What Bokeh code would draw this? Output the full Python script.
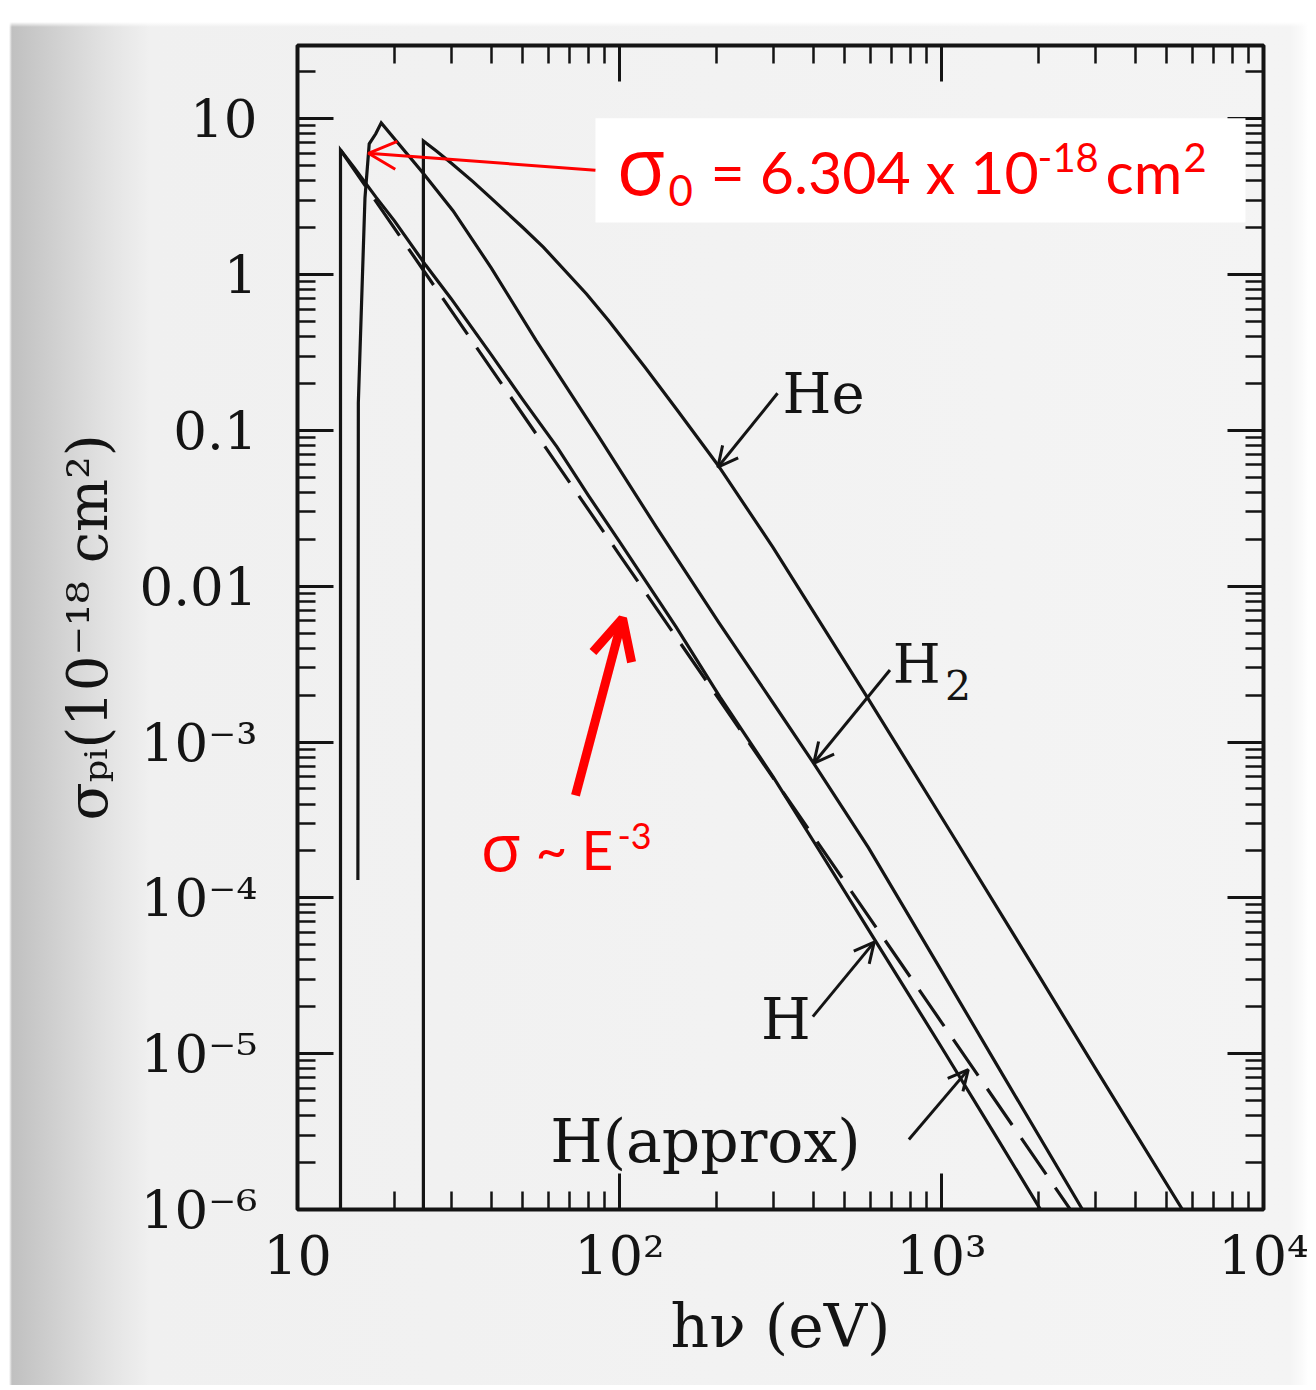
from bokeh.plotting import figure
from bokeh.models import (LogAxis, FixedTicker, Label, Arrow, OpenHead, BoxAnnotation,
                          Range1d, CustomJSTickFormatter)
from bokeh.embed import file_html
from bokeh.resources import INLINE

# ---------------- data (photon energy in eV, sigma in 1e-18 cm^2) -------------
H_energy = [13.6, 13.6, 15, 17.5, 20, 25, 30, 40, 50, 64, 80, 100, 150, 205, 300, 415, 620, 1000, 1500, 2000, 2100]
H_sigma = [1e-6, 6.3, 4.85, 3.15, 2.21, 1.15, 0.70, 0.305, 0.158, 0.078, 0.0383, 0.0193, 5.46e-3, 1.95e-3,
           5.97e-4, 2.05e-4, 5.4e-5, 1.1e-5, 2.8e-6, 1.05e-6, 0.89e-6]

Happrox_energy = [13.6, 100, 1000, 2700]
Happrox_sigma = [6.3, 0.0159, 1.59e-5, 8.05e-7]

H2_energy = [15.4, 15.45, 16.2, 16.7, 17.5, 18.2, 24.5, 30.4, 40, 55, 86, 130, 204, 300, 401, 593, 1000, 1500,
             2740, 2900]
H2_sigma = [1.3e-4, 0.15, 3.1, 6.9, 8.0, 9.4, 4.5, 2.57, 1.1, 0.38, 0.092, 0.024, 5.8e-3, 1.78e-3, 7.3e-4,
            2.1e-4, 3.4e-5, 8.2e-6, 1.0e-6, 8.2e-7]

He_energy = [24.6, 24.6, 27, 30, 35, 40, 50, 58, 79, 93, 120, 151, 202, 300, 587, 1128, 2000, 3000, 5600, 6000]
He_sigma = [1e-6, 7.2, 6.2, 5.2, 3.96, 3.08, 2.01, 1.5, 0.75, 0.50, 0.254, 0.135, 0.06, 0.0177, 1.95e-3,
            2.2e-4, 3.2e-5, 8.1e-6, 1.0e-6, 8.0e-7]

x_tick_values = [10, 100, 1000, 10000]
x_tick_labels = ["10", "10²", "10³", "10⁴"]
y_tick_values = [1e-6, 1e-5, 1e-4, 1e-3, 0.01, 0.1, 1, 10]
y_tick_labels = ["10⁻⁶", "10⁻⁵", "10⁻⁴", "10⁻³", "0.01", "0.1", "1", "10"]

x_label = "hν (eV)"
y_label = "σₚᵢ(10⁻¹⁸ cm²)"

# ---------------- styling ----------------
INK = "#141414"
SERIF = "DejaVu Serif"
RED = "#ff0000"
BASE_SHIFT = 0.355  # compensation so that the label anchor is the alphabetic baseline

x_minor = [m * 10.0 ** k for k in range(1, 4) for m in range(2, 10)]
y_minor = [m * 10.0 ** k for k in range(-6, 2) for m in range(2, 10)]
xt = FixedTicker(ticks=x_tick_values, minor_ticks=x_minor)
yt = FixedTicker(ticks=y_tick_values, minor_ticks=y_minor)

fmt_code = """
let best = -1, bd = 1e9;
for (let i = 0; i < vals.length; i++) {
  const d = Math.abs(Math.log10(tick) - Math.log10(vals[i]));
  if (d < bd) { bd = d; best = i; }
}
return bd < 1e-6 ? labs[best] : "";
"""
xfmt = CustomJSTickFormatter(args=dict(vals=x_tick_values, labs=x_tick_labels), code=fmt_code)
yfmt = CustomJSTickFormatter(args=dict(vals=y_tick_values, labs=y_tick_labels), code=fmt_code)
blank = CustomJSTickFormatter(code="return '';")

p = figure(x_axis_type="log", y_axis_type="log",
           x_range=Range1d(10, 1e4), y_range=Range1d(1e-6, 29.5),
           frame_width=966, frame_height=1164,
           min_border_left=297, min_border_right=50, min_border_top=45, min_border_bottom=176,
           output_backend="svg", toolbar_location=None,
           background_fill_color=None, border_fill_color=None,
           outline_line_color=INK, outline_line_width=4)
p.grid.visible = False
p.styles = {
    "background": "linear-gradient(to bottom, #ffffff 0px, #ffffff 22px, rgba(255,255,255,0) 27px), "
                  "linear-gradient(to right, #ffffff 0px, #ffffff 9px, #c0c0c0 12px, #cecece 50px, "
                  "#e2e2e2 105px, #f0f0f0 150px, #f4f4f4 1290px, #fafafa 1302px, #ffffff 1308px)"
}


def style_axis(ax):
    ax.axis_line_color = None
    ax.major_tick_in = 36
    ax.major_tick_out = 0
    ax.minor_tick_in = 18
    ax.minor_tick_out = 0
    ax.major_tick_line_color = INK
    ax.minor_tick_line_color = INK
    ax.major_tick_line_width = 3
    ax.minor_tick_line_width = 2.5
    ax.major_label_text_font = SERIF
    ax.major_label_text_color = INK
    ax.axis_label_text_font = SERIF
    ax.axis_label_text_font_style = "normal"
    ax.axis_label_text_color = INK


xa = p.xaxis[0]
ya = p.yaxis[0]
xa.ticker = xt
ya.ticker = yt
xa.formatter = xfmt
ya.formatter = yfmt
style_axis(xa)
style_axis(ya)
xa.major_label_text_font_size = "54px"
ya.major_label_text_font_size = "53px"
xa.major_label_standoff = 15
ya.major_label_standoff = 40
xa.axis_label = x_label
ya.axis_label = y_label
xa.axis_label_text_font_size = "60px"
ya.axis_label_text_font_size = "56px"
xa.axis_label_standoff = 0
ya.axis_label_standoff = 16

top = LogAxis(ticker=xt, formatter=blank)
right = LogAxis(ticker=yt, formatter=blank)
for ax in (top, right):
    style_axis(ax)
    ax.major_label_text_font_size = "8px"
    ax.major_label_standoff = 0
p.add_layout(top, "above")
p.add_layout(right, "right")

# ---------------- curves ----------------
p.line(He_energy, He_sigma, line_width=3.2, line_color=INK, line_join="miter")
p.line(H2_energy, H2_sigma, line_width=3.2, line_color=INK, line_join="miter")
p.line(H_energy, H_sigma, line_width=3.2, line_color=INK, line_join="miter")
p.line(Happrox_energy, Happrox_sigma, line_width=3.2, line_color=INK, line_dash="44 16")


# ---------------- black labels and arrows ----------------
def blabel(x, y, text, size, align="left"):
    p.add_layout(Label(x=x, y=y, y_offset=BASE_SHIFT * size, text=text, text_font=SERIF,
                       text_font_size=f"{size}px", text_color=INK, text_align=align,
                       text_baseline="alphabetic"))


def barrow(x0, y0, x1, y1):
    p.add_layout(Arrow(x_start=x0, y_start=y0, x_end=x1, y_end=y1, line_color=INK, line_width=3,
                       end=OpenHead(size=20, line_color=INK, line_width=3)))


blabel(321, 0.1285, "He", 56)
barrow(309.6, 0.173, 202, 0.058)

blabel(706, 2.39e-3, "H", 55)
blabel(1026, 1.86e-3, "2", 41)
barrow(691.7, 2.9e-3, 401, 7.3e-4)

blabel(275, 1.23e-5, "H", 57)
barrow(398.5, 1.73e-5, 618, 5.2e-5)

blabel(185, 2.0e-6, "H(approx)", 60, align="center")
barrow(792, 2.81e-6, 1211, 7.9e-6)

# ---------------- red annotations ----------------
p.add_layout(BoxAnnotation(left=84.2, right=8790, bottom=2.16, top=10.06,
                           fill_color="white", fill_alpha=1.0, line_color=None))


def rlabel(x, y, text, size, dx=0, dy=0, font="Lato"):
    p.add_layout(Label(x=x, y=y, x_offset=dx, y_offset=dy + BASE_SHIFT * size, text=text, text_font=font,
                       text_font_size=f"{size}px", text_color=RED, text_baseline="alphabetic"))


ax0, ay0 = 97.9, 3.37
rlabel(ax0, ay0, "σ", 80, font="Open Sans")
rlabel(ax0, ay0, "0", 42, dx=52, dy=-13)
rlabel(ax0, ay0, "= 6.304 x 10", 59, dx=94)
rlabel(ax0, ay0, "-18", 40, dx=421, dy=21)
rlabel(ax0, ay0, "cm", 59, dx=489)
rlabel(ax0, ay0, "2", 40, dx=567, dy=21)

p.add_layout(Arrow(x_start=84.2, y_start=4.67, x_end=16.6, y_end=6.0, line_color=RED, line_width=3,
                   end=OpenHead(size=28, line_color=RED, line_width=3)))

p.add_layout(Arrow(x_start=73.0, y_start=4.54e-4, x_end=102.2, y_end=6.21e-3, line_color=RED, line_width=9,
                   end=OpenHead(size=40, line_color=RED, line_width=9)))

bx, by = 37.0, 1.545e-4
rlabel(bx, by, "σ", 66, font="Open Sans")
rlabel(bx, by, "~ E", 55, dx=55)
rlabel(bx, by, "-3", 36, dx=137, dy=20)

open("out.html", "w").write(file_html(p, INLINE))
